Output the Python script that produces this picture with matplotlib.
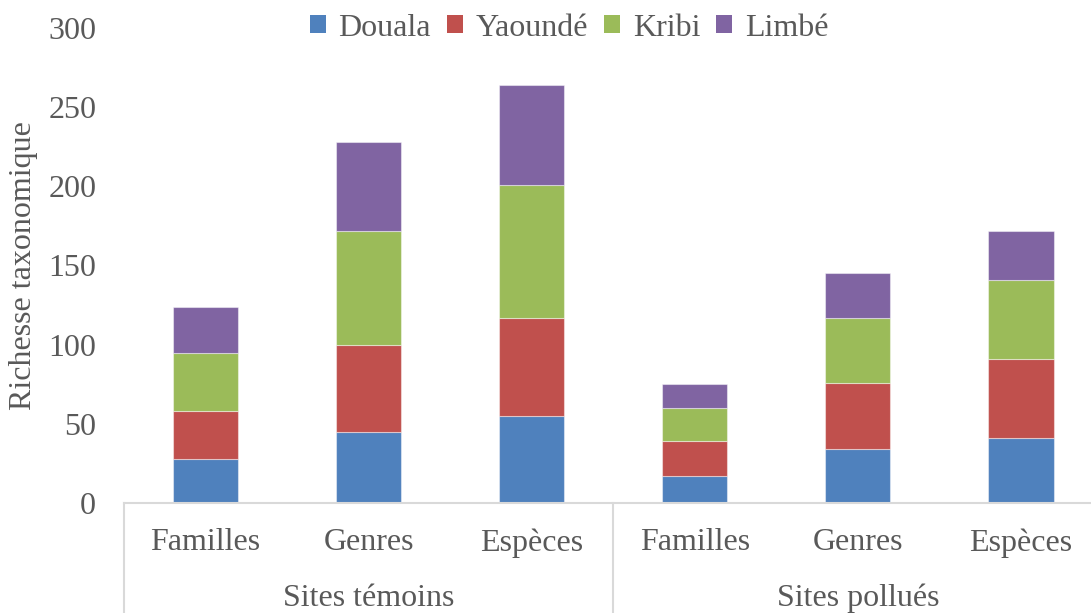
import matplotlib
matplotlib.use("Agg")
import matplotlib.pyplot as plt
import matplotlib.transforms as mtransforms
from matplotlib.patches import Patch
import numpy as np

plt.rcParams["font.family"] = ["Liberation Serif", "DejaVu Serif"]

# stacked richness per city, six bars: (Familles, Genres, Espèces) x (témoins, pollués)
categories = ["Familles", "Genres", "Espèces", "Familles", "Genres", "Espèces"]
groups = ["Sites témoins", "Sites pollués"]
douala = [28, 45, 55, 17, 34, 41]
yaounde = [30, 55, 62, 22, 42, 50]
kribi = [37, 72, 84, 21, 41, 50]
limbe = [29, 56, 63, 15, 28, 31]
series_names = ["Douala", "Yaoundé", "Kribi", "Limbé"]
yticks = [0, 50, 100, 150, 200, 250, 300]

COLORS = ["#4F81BD", "#C0504D", "#9BBB59", "#8064A2"]
TXT = "#595959"
LINE = "#D9D9D9"
FS = 23

fig = plt.figure(figsize=(10.91, 6.13), dpi=100)
ax = fig.add_axes([124 / 1091, 110 / 613, 978.5 / 1091, 475 / 613])

x = np.arange(len(categories))
bottom = np.zeros(len(categories))
for vals, col in zip([douala, yaounde, kribi, limbe], COLORS):
    ax.bar(x, vals, 0.4, bottom=bottom, color=col, edgecolor=(1, 1, 1, 0.45), linewidth=0.8)
    bottom += np.array(vals)

ax.set_xlim(-0.5, 5.5)
ax.set_ylim(0, 300)
ax.set_yticks(yticks)
ax.tick_params(axis="y", length=0, pad=20, labelsize=FS, labelcolor=TXT)
ax.set_xticks(x)
ax.set_xticklabels(categories)
ax.tick_params(axis="x", length=0, pad=18, labelsize=FS, labelcolor=TXT)
for s in ["top", "right", "left"]:
    ax.spines[s].set_visible(False)
ax.spines["bottom"].set_color(LINE)
ax.spines["bottom"].set_linewidth(1.5)

ax.set_ylabel("Richesse taxonomique", fontsize=FS, color=TXT, labelpad=7)

# group separators and group labels under the category labels
trans = mtransforms.blended_transform_factory(ax.transData, ax.transAxes)
for xs in [-0.5, 2.5, 5.5]:
    ax.plot([xs, xs], [0, -0.24], color=LINE, lw=1.5, transform=trans, clip_on=False)
for i, g in enumerate(groups):
    ax.text(1 + 3 * i, -0.2, g, transform=trans, ha="center", va="center",
            fontsize=FS, color=TXT)

handles = [Patch(facecolor=c, edgecolor="none") for c in COLORS]
fig.legend(handles, series_names, loc="center", bbox_to_anchor=(569 / 1091, 1 - 28 / 613),
           ncol=4, frameon=False, fontsize=FS, handlelength=0.5, handleheight=0.5,
           handletextpad=0.4, columnspacing=0.5, labelcolor=TXT)

fig.savefig("out.png", dpi=100)
